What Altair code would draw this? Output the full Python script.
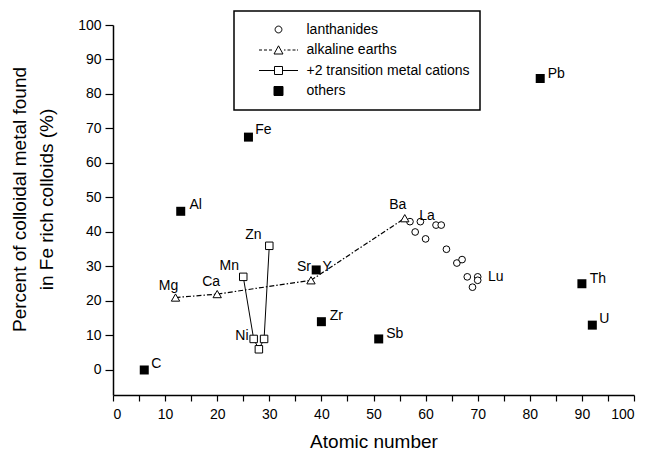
import altair as alt
import pandas as pd

# ---------------- data ----------------
lan_x = [57, 58, 59, 60, 62, 63, 64, 66, 67, 68, 69, 70, 70]
lan_y = [43, 40, 43, 38, 42, 42, 35, 31, 32, 27, 24, 27, 26]
lan_names = ["La", "Ce", "Pr", "Nd", "Sm", "Eu", "Gd", "Dy", "Ho", "Er", "Tm", "Yb", "Lu"]

alk_names = ["Mg", "Ca", "Sr", "Ba"]
alk_x = [12, 20, 38, 56]
alk_y = [21, 22, 26, 44]

tm_names = ["Mn", "Co", "Ni", "Cu", "Zn"]
tm_x = [25, 27, 28, 29, 30]
tm_y = [27, 9, 6, 9, 36]

oth_names = ["C", "Al", "Fe", "Y", "Zr", "Sb", "Pb", "Th", "U"]
oth_x = [6, 13, 26, 39, 40, 51, 82, 90, 92]
oth_y = [0, 46, 67.5, 29, 14, 9, 84.5, 25, 13]

groups = ["lanthanides", "alkaline earths", "+2 transition metal cations", "others"]

x_ticks = list(range(0, 101, 5))
y_ticks = list(range(0, 101, 10))

# label offsets (pixels) for the point labels
label_offsets = {
    "Mg": (-7, -12), "Ca": (-6, -12), "Sr": (-7, -13), "Ba": (-7, -13),
    "Mn": (-14, -11), "Zn": (-16, -11), "Ni": (-17, -13),
    "La": (17, -6), "Lu": (18, -3),
    "C": (12, -6), "Al": (15, -6), "Fe": (15, -7), "Y": (11, -3),
    "Zr": (15, -6), "Sb": (16, -5), "Pb": (16, -4), "Th": (16, -5), "U": (12, -6),
}

lan = pd.DataFrame({"x": lan_x, "y": lan_y, "name": lan_names})
alk = pd.DataFrame({"x": alk_x, "y": alk_y, "name": alk_names})
tm = pd.DataFrame({"x": tm_x, "y": tm_y, "name": tm_names})
oth = pd.DataFrame({"x": oth_x, "y": oth_y, "name": oth_names})
allpts = pd.concat([lan, alk, tm, oth], ignore_index=True)
allpts = allpts.drop_duplicates(subset="name", keep="last")

X = alt.X("x:Q", scale=alt.Scale(domain=[0, 100], nice=False),
          axis=alt.Axis(values=x_ticks, title="Atomic number",
                        labelExpr="datum.value % 10 === 0 ? datum.label : ''",
                        tickSize=6, labelPadding=6, titleY=46, titleBaseline="middle"))
Y = alt.Y("y:Q", scale=alt.Scale(domain=[-7.25, 100], nice=False, zero=False),
          axis=alt.Axis(values=y_ticks,
                        title=["Percent of colloidal metal found", "in Fe rich colloids (%)"],
                        tickSize=8, labelPadding=4, titleAngle=-90, titleX=-94, titleY=174,
                        titleAlign="center", titleBaseline="middle", titleLineHeight=27))

alk_line = alt.Chart(alk).mark_line(color="black", strokeWidth=1.2, strokeDash=[5, 2, 1.5, 2]).encode(x=X, y=Y)
tm_line = alt.Chart(tm).mark_line(color="black", strokeWidth=1).encode(x=X, y=Y)

lan_pts = alt.Chart(lan).mark_point(shape="circle", size=45, filled=True, fill="white",
                                    stroke="black", strokeWidth=1, opacity=1).encode(x=X, y=Y)
alk_pts = alt.Chart(alk).mark_point(shape="triangle-up", size=70, filled=True, fill="white",
                                    stroke="black", strokeWidth=1, opacity=1).encode(x=X, y=Y)
tm_pts = alt.Chart(tm).mark_point(shape="square", size=56, filled=True, fill="white",
                                  stroke="black", strokeWidth=1, opacity=1).encode(x=X, y=Y)
oth_pts = alt.Chart(oth).mark_point(shape="square", size=81, filled=True, fill="black",
                                    opacity=1).encode(x=X, y=Y)

text_layers = []
for nm, (dx, dy) in label_offsets.items():
    text_layers.append(
        alt.Chart(allpts).transform_filter(alt.datum.name == nm)
        .mark_text(dx=dx, dy=dy, fontSize=14, font="Liberation Sans", color="black",
                   align="center", baseline="middle")
        .encode(x=X, y=Y, text="name:N")
    )

# legend symbols (custom paths combining line + marker), designed in pixels
SYM_W = 55.0  # symbol box width in px


def u(v):
    return round(v / (SYM_W / 2), 4)


def circle_path(r):
    return f"M{u(r)},0A{u(r)},{u(r)} 0 1,1 {u(-r)},0A{u(r)},{u(r)} 0 1,1 {u(r)},0Z"


def square_path(h):
    return f"M{u(-h)},{u(-h)}H{u(h)}V{u(h)}H{u(-h)}Z"


sym_lan = circle_path(3.4)
dash_segs = [(-19.5, -16.5), (-14.5, -11.5), (-9.5, -6.5), (5.5, 7), (9, 12), (14, 17), (18.5, 19.5)]
sym_alk = "".join(f"M{u(a)},0H{u(b)}" for a, b in dash_segs) + f"M{u(-4.5)},{u(4)}L0,{u(-4.2)}L{u(4.5)},{u(4)}Z"
sym_tm = f"M{u(-19.5)},0H{u(-4)}M{u(4)},0H{u(19.5)}" + square_path(4)
sym_oth = square_path(4.5)

leg = alt.Legend(title=None, orient="none", legendX=121, legendY=-14,
                 symbolSize=SYM_W ** 2, symbolStrokeColor="black", symbolStrokeWidth=1,
                 symbolOffset=6.5,
                 labelFontSize=14, labelFont="Liberation Sans", labelColor="black",
                 labelOffset=0, rowPadding=3.5, padding=10, clipHeight=17,
                 strokeColor="black", labelLimit=300)

leg_df = pd.DataFrame({"group": groups, "x": [0] * 4, "y": [0] * 4})
legend_layer = alt.Chart(leg_df).transform_filter("false").mark_point(
    filled=False, color="black", stroke="black", strokeWidth=1, opacity=1
).encode(
    x=X, y=Y,
    shape=alt.Shape("group:N", scale=alt.Scale(domain=groups, range=[sym_lan, sym_alk, sym_tm, sym_oth]),
                    legend=leg),
    fill=alt.Fill("group:N", scale=alt.Scale(domain=groups, range=["white", "white", "white", "black"]),
                  legend=leg),
    stroke=alt.Stroke("group:N", scale=alt.Scale(domain=groups, range=["black", "black", "black", "black"]),
                      legend=leg),
)

chart = alt.layer(
    alk_line, tm_line, lan_pts, alk_pts, tm_pts, oth_pts, *text_layers, legend_layer
).properties(
    width=521, height=370,
    autosize=alt.AutoSizeParams(type="none"),
    padding={"left": 113, "top": 25, "right": 12, "bottom": 57},
).configure_view(stroke=None).configure_axis(
    grid=False, domainColor="black", domainWidth=1.5, tickColor="black", tickWidth=1.2,
    labelColor="black", labelFontSize=14, labelFont="Liberation Sans",
    titleColor="black", titleFontSize=19, titleFont="Liberation Sans", titleFontWeight="normal",
).configure_legend(strokeWidth=1.5)

chart.save("out.html", embed_options={"renderer": "svg", "actions": False})
